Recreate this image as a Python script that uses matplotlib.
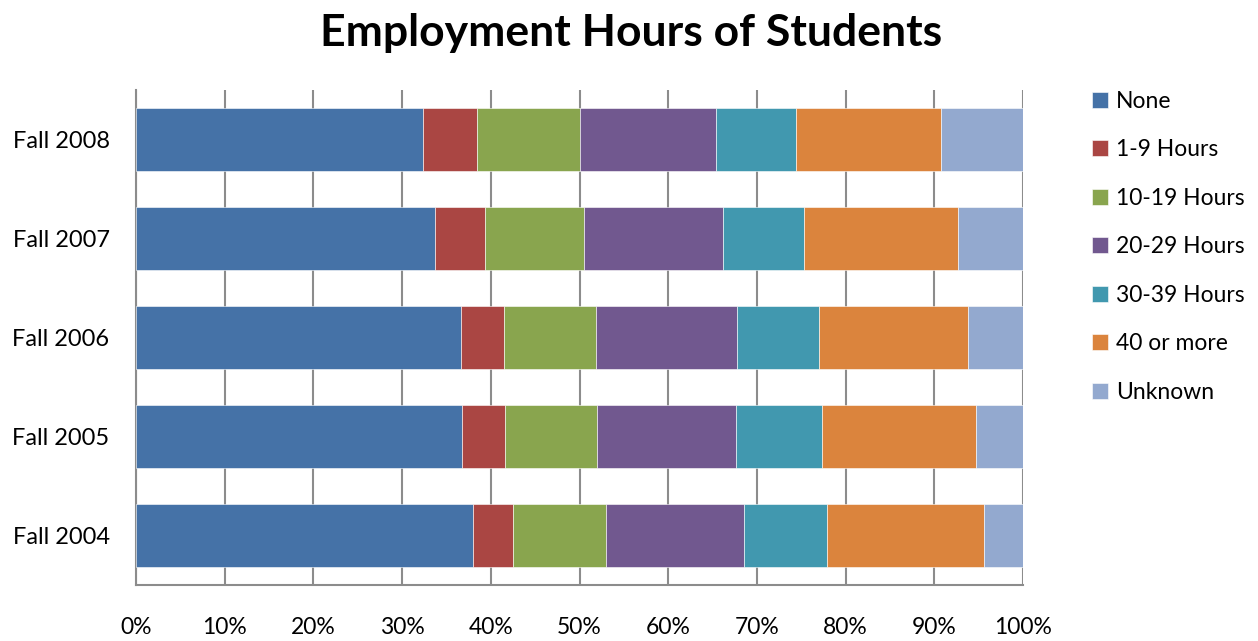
import matplotlib.pyplot as plt
import numpy as np

plt.rcParams['font.family'] = ['Lato', 'DejaVu Sans']

years = ['Fall 2008', 'Fall 2007', 'Fall 2006', 'Fall 2005', 'Fall 2004']
groups = ['None', '1-9 Hours', '10-19 Hours', '20-29 Hours', '30-39 Hours', '40 or more', 'Unknown']
colors = ['#4572A7', '#AA4643', '#89A54E', '#71588F', '#4198AF', '#DB843D', '#93A9CF']

# percent of students per year, one list per group (same order as years)
none_ = [32.3, 33.7, 36.6, 36.8, 38.0]
h1_9 = [6.1, 5.7, 4.9, 4.8, 4.5]
h10_19 = [11.7, 11.1, 10.4, 10.4, 10.5]
h20_29 = [15.3, 15.7, 15.9, 15.7, 15.5]
h30_39 = [9.0, 9.1, 9.2, 9.6, 9.4]
h40_more = [16.3, 17.4, 16.8, 17.4, 17.7]
unknown = [9.3, 7.3, 6.2, 5.3, 4.4]

data = np.array([none_, h1_9, h10_19, h20_29, h30_39, h40_more, unknown])
data = data / data.sum(axis=0) * 100

fig = plt.figure(figsize=(12.58, 6.41), dpi=100)
ax = fig.add_axes([136 / 1258, 1 - 585 / 641, 887 / 1258, 495 / 641])

y = np.arange(len(years))
left = np.zeros(len(years))
for vals, name, c in zip(data, groups, colors):
    ax.barh(y, vals, left=left, height=0.64, color=c, label=name,
            edgecolor='white', linewidth=0.4, zorder=3)
    left += vals

ax.set_xlim(0, 100)
ax.set_ylim(len(years) - 0.5, -0.5)
ax.set_yticks(y)
ax.set_yticklabels(years, fontsize=17)
ax.set_xticks(np.arange(0, 101, 10))
ax.set_xticklabels([f'{v}%' for v in range(0, 101, 10)], fontsize=16.5)
ax.tick_params(axis='both', length=0)
ax.tick_params(axis='x', pad=23)
ax.tick_params(axis='y', pad=19)
ax.grid(axis='x', color='#8c8c8c', linewidth=1.5, zorder=0)

for s in ['top', 'right']:
    ax.spines[s].set_visible(False)
for s in ['left', 'bottom']:
    ax.spines[s].set_color('#8c8c8c')
    ax.spines[s].set_linewidth(1.5)

fig.text(0.502, 1 - 33 / 641, 'Employment Hours of Students', fontsize=32,
         fontweight='bold', ha='center', va='center')

ax.legend(loc='upper left', bbox_to_anchor=(1.078, 0.998), frameon=False, fontsize=16.5,
          borderpad=0, borderaxespad=0,
          handlelength=0.7, handleheight=0.7, handletextpad=0.35, labelspacing=1.2)

fig.savefig('out.png', dpi=100)
